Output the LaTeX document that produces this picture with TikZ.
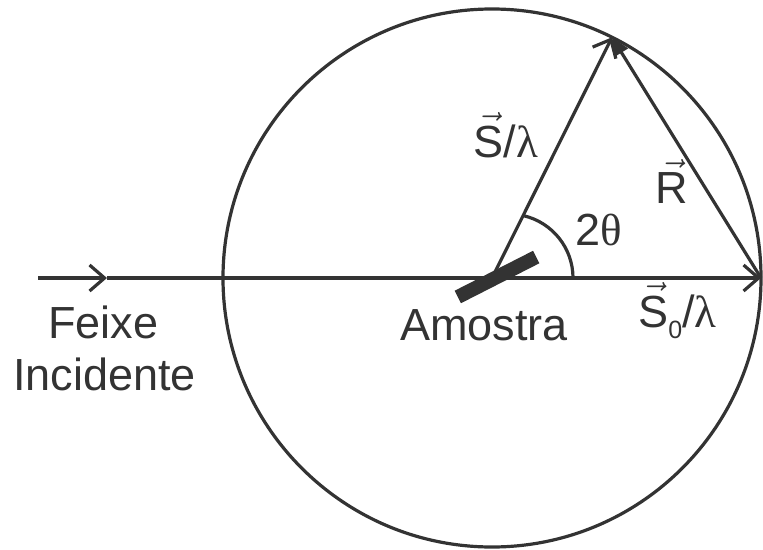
\RequirePackage{fix-cm}
\documentclass[tikz,border=0pt]{standalone}
\usepackage{fontspec}
\setmainfont{Liberation Sans}
\newfontfamily\greekserif{Liberation Serif}
\usetikzlibrary{arrows.meta}
\definecolor{inkgray}{HTML}{333333}
\newcommand{\lam}{{\greekserif λ}}
\newcommand{\tht}{{\greekserif θ}}
\newcommand{\vecmark}[1]{\ensuremath{\vec{\mbox{#1}}}}
\newcommand{\subzero}{\raisebox{-11pt}{\fontsize{25}{25}\selectfont 0}}

\begin{document}
\begin{tikzpicture}[x=1pt, y=-1pt, line width=3.2pt, color=inkgray,
    barb/.style={-{Straight Barb[length=15pt,width=26pt]}},
    tri/.style={-{Triangle[length=18pt,width=15pt]}},
    sampleplate/.style={rectangle, fill, inner sep=0pt,
        minimum width=88pt, minimum height=14pt, rotate=27},
    lbl/.style={font=\fontsize{45}{52}\selectfont, inner sep=0pt, anchor=base}]
        \useasboundingbox (0,0) rectangle (763,549);
        % Ewald circle, coordinates in pixels
        \coordinate (O) at (492, 278);
        \coordinate (Start) at (38, 278);
        \coordinate (Mark) at (107, 278);
        \coordinate (Exit) at (761, 278);
        \coordinate (Tip) at ([shift={(63.5:269pt)}]O);
        \coordinate (ArcA) at (573, 278);

        \draw (O) circle[radius=269pt];
        \draw[barb] (Start) -- (Mark);
        \draw[barb] (Mark) -- (Exit);
        \draw[barb] (O) -- (Tip);
        \draw[tri] (Exit) -- (Tip);
        \draw (ArcA) arc[start angle=0, end angle=77, radius=64pt];
        \node[sampleplate] (sample) at (497, 277) {};

        \node[lbl] (feixe) at (103.5, 338) {Feixe};
        \node[lbl] (incidente) at (104.5, 390) {Incidente};
        \node[lbl] (amostra) at (484, 340) {Amostra};
        \node[lbl] (slabel) at (506, 157) {\vecmark{S}/\lam};
        \node[lbl] (rlabel) at (672, 203) {\vecmark{R}};
        \node[lbl] (angle) at (599, 245) {2\tht};
        \node[lbl] (szlabel) at (677.5, 327) {\vecmark{S}\subzero/\lam};
    \end{tikzpicture}
\end{document}
